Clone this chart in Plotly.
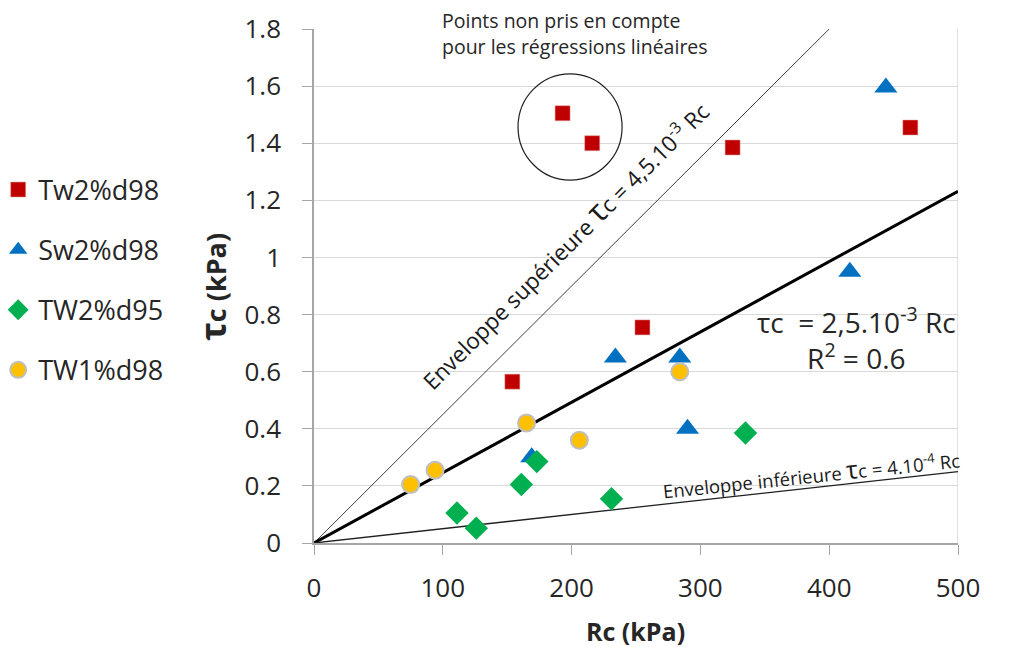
import plotly.graph_objects as go

# Data
tw2_d98_x = [193, 216, 325, 463, 255, 154]
tw2_d98_y = [1.505, 1.40, 1.385, 1.455, 0.755, 0.565]

sw2_d98_x = [444, 416, 234, 284, 290, 169]
sw2_d98_y = [1.595, 0.95, 0.65, 0.65, 0.40, 0.30]

tw2_d95_x = [111, 126, 161, 173, 231, 335]
tw2_d95_y = [0.105, 0.052, 0.205, 0.285, 0.155, 0.385]

tw1_d98_x = [75, 94, 165, 206, 284]
tw1_d98_y = [0.205, 0.255, 0.42, 0.36, 0.60]

x_ticks = [0, 100, 200, 300, 400, 500]
y_ticks = [0, 0.2, 0.4, 0.6, 0.8, 1, 1.2, 1.4, 1.6, 1.8]
y_ticktext = ["0", "0.2", "0.4", "0.6", "0.8", "1", "1.2", "1.4", "1.6", "1.8"]

# Lines (envelopes and regression)
upper_x = [0, 400]
upper_y = [0, 1.8]
mid_x = [0, 500]
mid_y = [0, 1.232]
lower_x = [0, 500]
lower_y = [0, 0.25]

FONT = "Open Sans"
TXT = "#262626"
fig = go.Figure()

fig.add_trace(go.Scatter(x=upper_x, y=upper_y, mode="lines", line=dict(color="#404040", width=1), showlegend=False, hoverinfo="skip"))
fig.add_trace(go.Scatter(x=mid_x, y=mid_y, mode="lines", line=dict(color="black", width=3), showlegend=False, hoverinfo="skip"))
fig.add_trace(go.Scatter(x=lower_x, y=lower_y, mode="lines", line=dict(color="#202020", width=1.3), showlegend=False, hoverinfo="skip"))

fig.add_trace(go.Scatter(x=tw2_d98_x, y=tw2_d98_y, mode="markers", name="Tw2%d98", legendgroup="a",
                         marker=dict(symbol="square", size=15, color="#C00000", line=dict(color="#e0a0a0", width=0.5))))
fig.add_trace(go.Scatter(x=sw2_d98_x, y=sw2_d98_y, mode="markers", name="Sw2%d98", legendgroup="b",
                         marker=dict(symbol="triangle-up", size=20, color="#0070C0", line=dict(width=0))))
fig.add_trace(go.Scatter(x=tw2_d95_x, y=tw2_d95_y, mode="markers", name="TW2%d95", legendgroup="c",
                         marker=dict(symbol="diamond", size=18, color="#00B050", line=dict(width=0))))
fig.add_trace(go.Scatter(x=tw1_d98_x, y=tw1_d98_y, mode="markers", name="TW1%d98", legendgroup="d",
                         marker=dict(symbol="circle", size=17, color="#FFC000", line=dict(color="#BFBFBF", width=2))))

shapes = [
    dict(type="line", xref="x", yref="y", x0=500, x1=500, y0=0, y1=1.8, line=dict(color="#D9D9D9", width=1.5), layer="below"),
    dict(type="rect", xref="paper", yref="paper", x0=(745 - 314) / 644, x1=1.02, y0=(543 - 383) / 514, y1=(543 - 293) / 514,
         fillcolor="white", line=dict(width=0), layer="between"),
    dict(type="circle", xref="x", yref="y", x0=158.4, x1=239.2, y0=1.271, y1=1.643, line=dict(color="#202020", width=1.2)),
]

annotations = [
    dict(x=97.8, y=(543 - 20) / 514, xref="x", yref="paper", showarrow=False, xanchor="left", yanchor="middle",
         text="Points non pris en compte", font=dict(family=FONT, size=19.5, color=TXT)),
    dict(x=97.8, y=(543 - 47) / 514, xref="x", yref="paper", showarrow=False, xanchor="left", yanchor="middle",
         text="pour les régressions linéaires", font=dict(family=FONT, size=19.5, color=TXT)),
    dict(x=193.5, y=1.047, xref="x", yref="y", showarrow=False, textangle=-45, xanchor="center", yanchor="middle",
         text="Enveloppe supérieure <span style='font-size:31px'>τ</span>c = 4,5.10<sup>-3</sup> Rc",
         font=dict(family=FONT, size=22.5, color="#1a1a1a")),
    dict(x=386.6, y=0.245, xref="x", yref="y", showarrow=False, textangle=-6, xanchor="center", yanchor="middle",
         text="Enveloppe inférieure <span style='font-size:25px'>τ</span>c = 4.10<sup>-4</sup> Rc",
         font=dict(family=FONT, size=18.5, color="#1a1a1a")),
    dict(x=(856 - 314) / 644, y=(543 - 338) / 514, xref="paper", yref="paper", showarrow=False, xanchor="center", yanchor="middle",
         text="τc  = 2,5.10<sup>-3</sup> Rc<br>R<sup>2</sup> = 0.6",
         font=dict(family=FONT, size=28, color=TXT)),
    dict(x=(212 - 314) / 644, y=(543 - 287) / 514, xref="paper", yref="paper", showarrow=False, textangle=-90,
         xanchor="center", yanchor="middle",
         text="<b><span style='font-size:35px'>τ</span>c (kPa)</b>", font=dict(family=FONT, size=27, color=TXT)),
    dict(x=(635 - 314) / 644, y=(543 - 631) / 514, xref="paper", yref="paper", showarrow=False,
         xanchor="center", yanchor="middle",
         text="<b>Rc (kPa)</b>", font=dict(family=FONT, size=25, color=TXT)),
]

fig.update_layout(
    width=1023, height=647,
    margin=dict(l=314, r=65, t=29, b=104, autoexpand=False),
    paper_bgcolor="white", plot_bgcolor="white",
    font=dict(family=FONT, color=TXT),
    shapes=shapes, annotations=annotations,
    legend=dict(x=-0.4904, xanchor="left", y=(543 - 280) / 514, yanchor="middle",
                font=dict(family=FONT, size=27, color=TXT),
                itemsizing="trace", tracegroupgap=22, itemwidth=30,
                bgcolor="rgba(0,0,0,0)"),
    xaxis=dict(range=[0, 500], tickvals=x_ticks, showgrid=False, automargin=False,
               zeroline=False, showline=True, linecolor="#A6A6A6", linewidth=1.5,
               ticks="outside", ticklen=10, tickcolor="#A6A6A6", ticklabelstandoff=11,
               tickfont=dict(family=FONT, size=26, color=TXT)),
    yaxis=dict(range=[0, 1.8], tickvals=y_ticks, ticktext=y_ticktext, automargin=False,
               showgrid=True, gridcolor="#D9D9D9", gridwidth=1.2,
               zeroline=False, showline=True, linecolor="#A6A6A6", linewidth=1.5,
               ticks="outside", ticklen=10, tickcolor="#A6A6A6", ticklabelstandoff=16,
               tickfont=dict(family=FONT, size=26, color=TXT)),
)

fig.write_html("out.html", config={"displayModeBar": False},
               post_script="document.body.style.margin='0';document.body.style.padding='0';")
